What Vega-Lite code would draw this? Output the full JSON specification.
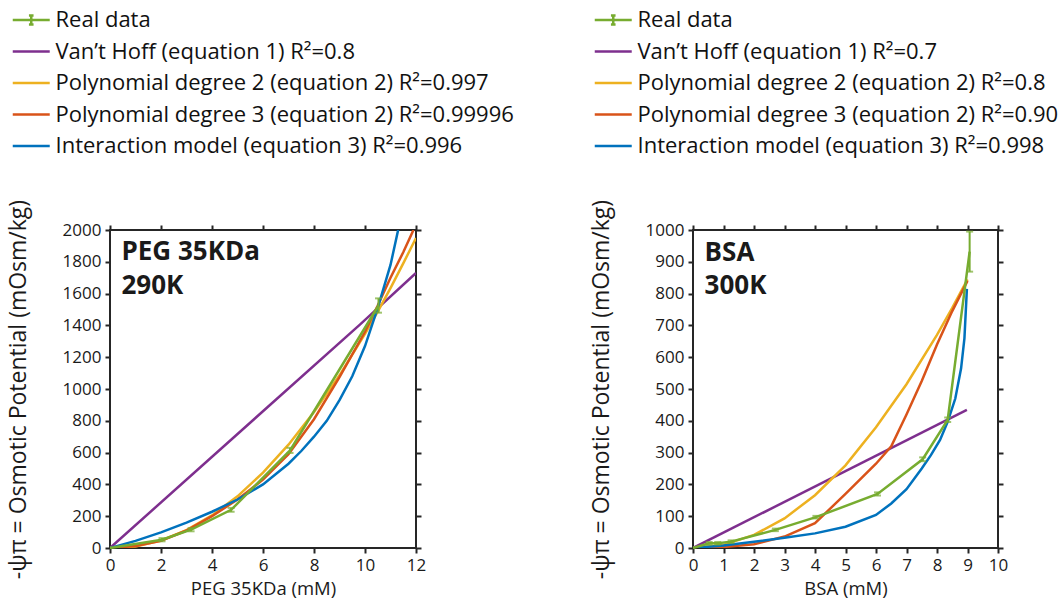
{
  "$schema": "https://vega.github.io/schema/vega-lite/v6.json",
  "background": "white",
  "padding": {"left": 6, "top": 8, "right": 5, "bottom": 5},
  "bounds": "flush",
  "spacing": 277,
  "config": {
    "view": {"stroke": "#262626", "strokeWidth": 2},
    "font": "Open Sans",
    "axis": {
      "labelFont": "Open Sans", "labelFontSize": 17, "labelColor": "#1a1a1a",
      "titleFont": "Open Sans", "titleFontWeight": "normal", "titleColor": "#1a1a1a",
      "domain": false, "ticks": true, "tickColor": "#262626", "tickWidth": 2,
      "tickSize": 5, "labelPadding": 4, "grid": false, "labelFlush": false, "labelOverlap": false, "format": "d"
    }
  },
  "datasets": {
    "pegFit": [
      {"series": "VH", "x": 0, "y": 0}, {"series": "VH", "x": 9.8, "y": 1405}, {"series": "VH", "x": 12, "y": 1730},
      {"series": "P2", "x": 0, "y": 0}, {"series": "P2", "x": 1, "y": 10}, {"series": "P2", "x": 2, "y": 47}, {"series": "P2", "x": 3, "y": 112}, {"series": "P2", "x": 4, "y": 205}, {"series": "P2", "x": 5, "y": 325}, {"series": "P2", "x": 6, "y": 474}, {"series": "P2", "x": 7, "y": 650}, {"series": "P2", "x": 8, "y": 855}, {"series": "P2", "x": 9, "y": 1086}, {"series": "P2", "x": 10, "y": 1347}, {"series": "P2", "x": 10.5, "y": 1487}, {"series": "P2", "x": 11, "y": 1635}, {"series": "P2", "x": 11.5, "y": 1790}, {"series": "P2", "x": 12, "y": 1950},
      {"series": "P3", "x": 0, "y": 0}, {"series": "P3", "x": 1, "y": 12}, {"series": "P3", "x": 2, "y": 45}, {"series": "P3", "x": 3, "y": 110}, {"series": "P3", "x": 4, "y": 200}, {"series": "P3", "x": 5, "y": 305}, {"series": "P3", "x": 6, "y": 430}, {"series": "P3", "x": 7, "y": 590}, {"series": "P3", "x": 8, "y": 810}, {"series": "P3", "x": 9, "y": 1075}, {"series": "P3", "x": 10, "y": 1360}, {"series": "P3", "x": 10.5, "y": 1525}, {"series": "P3", "x": 11, "y": 1700}, {"series": "P3", "x": 11.5, "y": 1860}, {"series": "P3", "x": 11.9, "y": 2000},
      {"series": "IM", "x": 0, "y": 0}, {"series": "IM", "x": 1, "y": 45}, {"series": "IM", "x": 2, "y": 98}, {"series": "IM", "x": 3, "y": 160}, {"series": "IM", "x": 4, "y": 228}, {"series": "IM", "x": 5, "y": 305}, {"series": "IM", "x": 6, "y": 400}, {"series": "IM", "x": 7, "y": 530}, {"series": "IM", "x": 7.5, "y": 610}, {"series": "IM", "x": 8, "y": 700}, {"series": "IM", "x": 8.5, "y": 800}, {"series": "IM", "x": 9, "y": 930}, {"series": "IM", "x": 9.5, "y": 1080}, {"series": "IM", "x": 10, "y": 1270}, {"series": "IM", "x": 10.5, "y": 1510}, {"series": "IM", "x": 11, "y": 1780}, {"series": "IM", "x": 11.3, "y": 2000}
    ],
    "pegReal": [
      {"series": "Real data", "x": 0, "y": 0}, {"series": "Real data", "x": 2.04, "y": 52}, {"series": "Real data", "x": 3.18, "y": 115}, {"series": "Real data", "x": 4.75, "y": 240}, {"series": "Real data", "x": 7.06, "y": 614}, {"series": "Real data", "x": 10.53, "y": 1525}
    ],
    "pegErr": [
      {"x": 2.04, "lo": 42, "hi": 62}, {"x": 3.18, "lo": 105, "hi": 125}, {"x": 4.75, "lo": 228, "hi": 252}, {"x": 7.06, "lo": 598, "hi": 630}, {"x": 10.53, "lo": 1480, "hi": 1570}
    ],
    "pegText": [
      {"label": "PEG 35KDa", "x": 0.45, "y": 1859}, {"label": "290K", "x": 0.45, "y": 1650}
    ],
    "bsaFit": [
      {"series": "VH", "x": 0, "y": 0}, {"series": "VH", "x": 8.98, "y": 434},
      {"series": "P2", "x": 0, "y": 0}, {"series": "P2", "x": 1, "y": 10}, {"series": "P2", "x": 2, "y": 41}, {"series": "P2", "x": 3, "y": 93}, {"series": "P2", "x": 4, "y": 166}, {"series": "P2", "x": 5, "y": 260}, {"series": "P2", "x": 6, "y": 380}, {"series": "P2", "x": 7, "y": 515}, {"series": "P2", "x": 8, "y": 670}, {"series": "P2", "x": 8.5, "y": 755}, {"series": "P2", "x": 9, "y": 845},
      {"series": "P3", "x": 0, "y": 0}, {"series": "P3", "x": 1, "y": 3}, {"series": "P3", "x": 2, "y": 12}, {"series": "P3", "x": 3, "y": 36}, {"series": "P3", "x": 4, "y": 78}, {"series": "P3", "x": 5, "y": 170}, {"series": "P3", "x": 6, "y": 265}, {"series": "P3", "x": 6.5, "y": 320}, {"series": "P3", "x": 7, "y": 420}, {"series": "P3", "x": 7.5, "y": 525}, {"series": "P3", "x": 8, "y": 640}, {"series": "P3", "x": 8.5, "y": 745}, {"series": "P3", "x": 9, "y": 840},
      {"series": "IM", "x": 0, "y": 0}, {"series": "IM", "x": 1, "y": 8}, {"series": "IM", "x": 2, "y": 20}, {"series": "IM", "x": 3, "y": 32}, {"series": "IM", "x": 4, "y": 46}, {"series": "IM", "x": 5, "y": 67}, {"series": "IM", "x": 6, "y": 104}, {"series": "IM", "x": 6.5, "y": 140}, {"series": "IM", "x": 7, "y": 185}, {"series": "IM", "x": 7.5, "y": 250}, {"series": "IM", "x": 7.8, "y": 292}, {"series": "IM", "x": 8.1, "y": 340}, {"series": "IM", "x": 8.35, "y": 397}, {"series": "IM", "x": 8.6, "y": 470}, {"series": "IM", "x": 8.79, "y": 565}, {"series": "IM", "x": 8.9, "y": 660}, {"series": "IM", "x": 8.98, "y": 815}
    ],
    "bsaReal": [
      {"series": "Real data", "x": 0, "y": 0}, {"series": "Real data", "x": 0.53, "y": 15}, {"series": "Real data", "x": 0.81, "y": 15}, {"series": "Real data", "x": 1.25, "y": 20}, {"series": "Real data", "x": 2.7, "y": 57}, {"series": "Real data", "x": 4.03, "y": 97}, {"series": "Real data", "x": 6.05, "y": 170}, {"series": "Real data", "x": 7.53, "y": 279}, {"series": "Real data", "x": 8.35, "y": 403}, {"series": "Real data", "x": 9.07, "y": 932}
    ],
    "bsaErr": [
      {"x": 0.53, "lo": 11, "hi": 19}, {"x": 0.81, "lo": 11, "hi": 19}, {"x": 1.25, "lo": 16, "hi": 24}, {"x": 2.7, "lo": 53, "hi": 61}, {"x": 4.03, "lo": 93, "hi": 101}, {"x": 6.05, "lo": 165, "hi": 175}, {"x": 7.53, "lo": 273, "hi": 285}, {"x": 8.35, "lo": 396, "hi": 410}, {"x": 9.07, "lo": 869, "hi": 995}
    ],
    "bsaText": [
      {"label": "BSA", "x": 0.38, "y": 927}, {"label": "300K", "x": 0.38, "y": 824}
    ]
  },
  "hconcat": [
    {
      "width": 306, "height": 318,
      "layer": [
        {
          "data": {"name": "pegFit"},
          "mark": {"type": "line", "strokeWidth": 2.5, "clip": true},
          "encoding": {
            "x": {"field": "x", "type": "quantitative", "scale": {"domain": [0, 12], "nice": false}, "axis": {"orient": "bottom", "values": [0, 2, 4, 6, 8, 10, 12], "title": "PEG 35KDa (mM)", "titleFontSize": 18.5, "titlePadding": 6, "encode": {"ticks": {"update": {"y2": {"value": -5}}}}}},
            "y": {"field": "y", "type": "quantitative", "scale": {"domain": [0, 2000], "nice": false}, "axis": {"orient": "left", "values": [0, 200, 400, 600, 800, 1000, 1200, 1400, 1600, 1800, 2000], "title": "-ψπ = Osmotic Potential (mOsm/kg)", "titleFontSize": 23, "titlePadding": 32, "encode": {"ticks": {"update": {"x2": {"value": 5}}}}}},
            "color": {
              "field": "series", "type": "nominal",
              "scale": {"domain": ["Real data", "VH", "P2", "P3", "IM"], "range": ["#77AC30", "#7E2F8E", "#EDB120", "#D95319", "#0072BD"]},
              "legend": {
                "orient": "none", "legendX": -99, "legendY": -221, "direction": "vertical", "title": null, "padding": 0,
                "symbolType": "M-1,0H3", "symbolSize": 342, "symbolStrokeWidth": 2.5,
                "labelFont": "Open Sans", "labelFontSize": 22, "labelColor": "#111111", "labelOffset": 22.5, "labelLimit": 0, "rowPadding": 9.5,
                "labelExpr": "datum.value === 'VH' ? 'Van’t Hoff (equation 1) R²=0.8' : datum.value === 'P2' ? 'Polynomial degree 2 (equation 2) R²=0.997' : datum.value === 'P3' ? 'Polynomial degree 3 (equation 2) R²=0.99996' : datum.value === 'IM' ? 'Interaction model (equation 3) R²=0.996' : datum.value",
                "encode": {"symbols": {"update": {"shape": {"signal": "datum.value === 'Real data' ? 'M-1,0H3M1,-0.5V0.5M0.75,-0.5H1.25M0.75,0.5H1.25' : 'M-1,0H3'"}}}}
              }
            }
          }
        },
        {
          "data": {"name": "pegReal"},
          "mark": {"type": "line", "strokeWidth": 2.5},
          "encoding": {
            "x": {"field": "x", "type": "quantitative", "axis": null},
            "y": {"field": "y", "type": "quantitative", "axis": null},
            "color": {"field": "series", "type": "nominal"}
          }
        },
        {
          "data": {"name": "pegErr"},
          "mark": {"type": "errorbar", "color": "#77AC30", "thickness": 2, "ticks": {"size": 7, "thickness": 2, "color": "#77AC30"}},
          "encoding": {
            "x": {"field": "x", "type": "quantitative", "axis": null},
            "y": {"field": "lo", "type": "quantitative", "axis": null},
            "y2": {"field": "hi"}
          }
        },
        {
          "data": {"name": "pegText"},
          "mark": {"type": "text", "align": "left", "baseline": "middle", "font": "Open Sans", "fontWeight": "bold", "fontSize": 26, "color": "#1a1a1a"},
          "encoding": {
            "x": {"field": "x", "type": "quantitative", "axis": null},
            "y": {"field": "y", "type": "quantitative", "axis": null},
            "text": {"field": "label"}
          }
        },
        {
          "data": {"name": "pegFit"},
          "mark": {"type": "point", "opacity": 0},
          "encoding": {
            "x": {"field": "x", "type": "quantitative", "axis": {"orient": "top", "values": [0, 2, 4, 6, 8, 10, 12], "labels": false, "title": null, "encode": {"ticks": {"update": {"y2": {"value": 5}}}}}},
            "y": {"field": "y", "type": "quantitative", "axis": {"orient": "right", "values": [0, 200, 400, 600, 800, 1000, 1200, 1400, 1600, 1800, 2000], "labels": false, "title": null, "encode": {"ticks": {"update": {"x2": {"value": -5}}}}}}
          }
        }
      ],
      "resolve": {"axis": {"x": "independent", "y": "independent"}}
    },
    {
      "width": 305, "height": 318,
      "layer": [
        {
          "data": {"name": "bsaFit"},
          "mark": {"type": "line", "strokeWidth": 2.5, "clip": true},
          "encoding": {
            "x": {"field": "x", "type": "quantitative", "scale": {"domain": [0, 10], "nice": false}, "axis": {"orient": "bottom", "values": [0, 1, 2, 3, 4, 5, 6, 7, 8, 9, 10], "title": "BSA (mM)", "titleFontSize": 18.5, "titlePadding": 6, "encode": {"ticks": {"update": {"y2": {"value": -5}}}}}},
            "y": {"field": "y", "type": "quantitative", "scale": {"domain": [0, 1000], "nice": false}, "axis": {"orient": "left", "values": [0, 100, 200, 300, 400, 500, 600, 700, 800, 900, 1000], "title": "-ψπ = Osmotic Potential (mOsm/kg)", "titleFontSize": 23, "titlePadding": 32, "encode": {"ticks": {"update": {"x2": {"value": 5}}}}}},
            "color": {
              "field": "series", "type": "nominal",
              "scale": {"domain": ["Real data", "VH", "P2", "P3", "IM"], "range": ["#77AC30", "#7E2F8E", "#EDB120", "#D95319", "#0072BD"]},
              "legend": {
                "orient": "none", "legendX": -100, "legendY": -221, "direction": "vertical", "title": null, "padding": 0,
                "symbolType": "M-1,0H3", "symbolSize": 342, "symbolStrokeWidth": 2.5,
                "labelFont": "Open Sans", "labelFontSize": 22, "labelColor": "#111111", "labelOffset": 22.5, "labelLimit": 0, "rowPadding": 9.5,
                "labelExpr": "datum.value === 'VH' ? 'Van’t Hoff (equation 1) R²=0.7' : datum.value === 'P2' ? 'Polynomial degree 2 (equation 2) R²=0.8' : datum.value === 'P3' ? 'Polynomial degree 3 (equation 2) R²=0.90' : datum.value === 'IM' ? 'Interaction model (equation 3) R²=0.998' : datum.value",
                "encode": {"symbols": {"update": {"shape": {"signal": "datum.value === 'Real data' ? 'M-1,0H3M1,-0.5V0.5M0.75,-0.5H1.25M0.75,0.5H1.25' : 'M-1,0H3'"}}}}
              }
            }
          }
        },
        {
          "data": {"name": "bsaReal"},
          "mark": {"type": "line", "strokeWidth": 2.5},
          "encoding": {
            "x": {"field": "x", "type": "quantitative", "axis": null},
            "y": {"field": "y", "type": "quantitative", "axis": null},
            "color": {"field": "series", "type": "nominal"}
          }
        },
        {
          "data": {"name": "bsaErr"},
          "mark": {"type": "errorbar", "color": "#77AC30", "thickness": 2, "ticks": {"size": 7, "thickness": 2, "color": "#77AC30"}},
          "encoding": {
            "x": {"field": "x", "type": "quantitative", "axis": null},
            "y": {"field": "lo", "type": "quantitative", "axis": null},
            "y2": {"field": "hi"}
          }
        },
        {
          "data": {"name": "bsaText"},
          "mark": {"type": "text", "align": "left", "baseline": "middle", "font": "Open Sans", "fontWeight": "bold", "fontSize": 26, "color": "#1a1a1a"},
          "encoding": {
            "x": {"field": "x", "type": "quantitative", "axis": null},
            "y": {"field": "y", "type": "quantitative", "axis": null},
            "text": {"field": "label"}
          }
        },
        {
          "data": {"name": "bsaFit"},
          "mark": {"type": "point", "opacity": 0},
          "encoding": {
            "x": {"field": "x", "type": "quantitative", "axis": {"orient": "top", "values": [0, 1, 2, 3, 4, 5, 6, 7, 8, 9, 10], "labels": false, "title": null, "encode": {"ticks": {"update": {"y2": {"value": 5}}}}}},
            "y": {"field": "y", "type": "quantitative", "axis": {"orient": "right", "values": [0, 100, 200, 300, 400, 500, 600, 700, 800, 900, 1000], "labels": false, "title": null, "encode": {"ticks": {"update": {"x2": {"value": -5}}}}}}
          }
        }
      ],
      "resolve": {"axis": {"x": "independent", "y": "independent"}}
    }
  ],
  "resolve": {"scale": {"color": "independent"}, "legend": {"color": "independent"}}
}
